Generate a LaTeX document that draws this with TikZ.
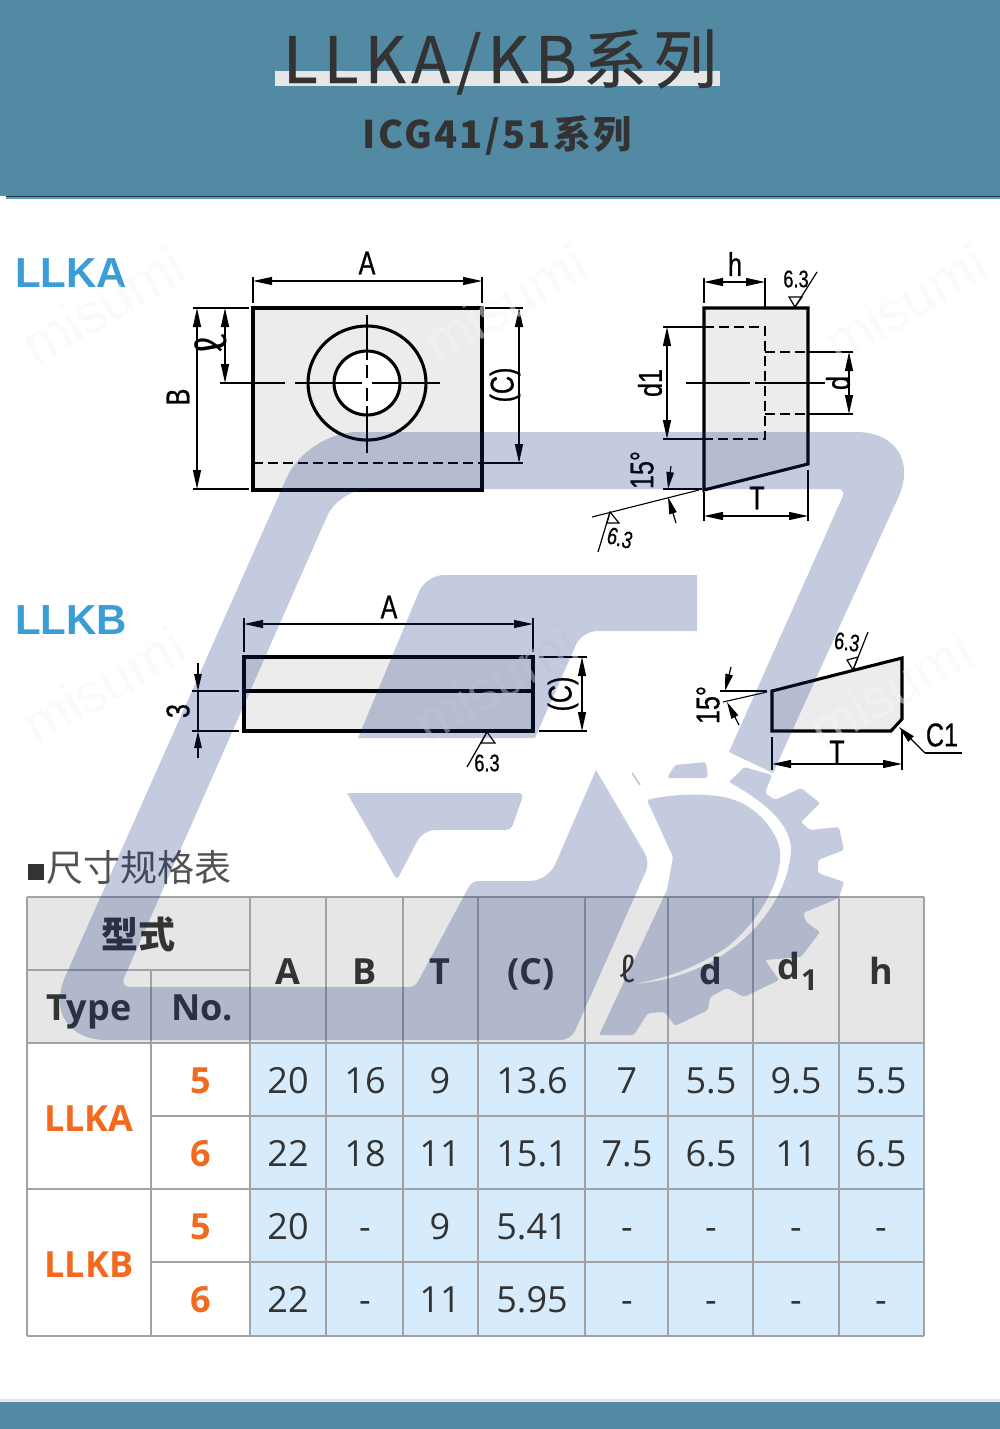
\documentclass[tikz,border=0pt]{standalone}
\usepackage{fontspec}
\usetikzlibrary{arrows.meta}
\setmainfont{Open Sans}
\newfontfamily\cjk{Noto Sans CJK SC}
\newfontfamily\titrefont[LetterSpace=9.5,FakeBold=.7]{Noto Sans CJK SC}
\newfontfamily\soustitrefont[LetterSpace=6]{Noto Sans CJK SC}
\newfontfamily\cotefont[FakeStretch=.76,FakeBold=.7]{Liberation Sans}
\newfontfamily\typefont{Liberation Sans}
\definecolor{bandeau}{RGB}{82,137,163}
\definecolor{encre}{RGB}{51,51,51}
\definecolor{grisfond}{RGB}{230,230,230}
\definecolor{bleufond}{RGB}{214,236,253}
\definecolor{grille}{RGB}{160,162,165}
\definecolor{orange}{RGB}{242,106,30}
\definecolor{bleutype}{RGB}{58,157,214}
\definecolor{logobleu}{RGB}{23,47,124}
\tikzset{
  piece/.style={draw=black,line width=3.1pt,fill=grisfond!75},
  axe/.style={line width=1.2pt},
  cache/.style={line width=1.8pt,dash pattern=on 10pt off 5pt},
  rappel/.style={line width=1.1pt},
  cote/.style={line width=1.2pt,{Triangle[length=19pt,width=8pt]}-{Triangle[length=19pt,width=8pt]}},
  fleche/.style={line width=1.2pt,-{Triangle[length=17pt,width=7.5pt]}},
  symbole/.style={line width=1.2pt},
  etiq/.style={font=\cotefont\fontsize{33}{35}\selectfont,inner sep=0pt},
  rugo/.style={font=\cotefont\fontsize{24}{26}\selectfont,inner sep=0pt},
  typenom/.style={font=\typefont\bfseries\fontsize{42}{45}\selectfont,text=bleutype,inner sep=0pt,anchor=base west},
  filigrane/.style={font=\typefont\fontsize{56}{58}\selectfont,text=black!4,text opacity=.5,inner sep=0pt},
  entete/.style={font=\bfseries\fontsize{36}{40}\selectfont,text=encre,inner sep=0pt,anchor=base},
  valeur/.style={font=\fontsize{36}{40}\selectfont,text=encre,inner sep=0pt,anchor=base},
  repere/.style={font=\bfseries\fontsize{36}{40}\selectfont,text=orange,inner sep=0pt,anchor=base},
  logo/.style={fill=logobleu,fill opacity=.25}
}
\begin{document}
\begin{tikzpicture}[x=1pt,y=-1pt]
  \useasboundingbox (0,0) rectangle (1000,1429);

  % bandeaux
  \fill[bandeau] (0,0) rectangle (1000,196);
  \fill[black!60!bandeau] (6,195.5) rectangle (1000,197);
  \fill[cyan!40!bandeau] (6,197) rectangle (1000,198.5);
  \fill[grisfond] (0,1399) rectangle (1000,1402);
  \fill[bandeau] (0,1402) rectangle (1000,1429);
  \fill[grisfond] (275,71) rectangle (720,86);
  \node[anchor=base,inner sep=0pt,text=encre,font=\titrefont\fontsize{64}{68}\selectfont] (titre) at (500,83) {LLKA/KB系列};
  \node[anchor=base,inner sep=0pt,text=encre,font=\soustitrefont\bfseries\fontsize{38}{40}\selectfont] (soustitre) at (497,148) {ICG41/51系列};

  % noms des types
  \node[typenom] (nomka) at (15,287) {LLKA};
  \node[typenom] (nomkb) at (15,634) {LLKB};

  % LLKA, vue de face
  \draw[piece] (253,308) rectangle (482,490);
  \draw[piece] (367,383) circle[x radius=59pt,y radius=57pt];
  \draw[piece,fill=white] (367,383) circle[x radius=33pt,y radius=32pt];
  \foreach \xa/\xb in {220/285,295/362,372/440}{
    \draw[axe] (\xa,383) -- (\xb,383);
  }
  \foreach \ya/\yb in {315/360,365/378,388/401,406/453}{
    \draw[axe] (367,\ya) -- (367,\yb);
  }
  \draw[cache] (253,463) -- (483,463);
  \draw[rappel] (483,463) -- (523,463);
  \draw[rappel] (253,277) -- (253,303);
  \draw[rappel] (482,277) -- (482,303);
  \draw[cote] (253,281) -- (482,281);
  \node[etiq] (cotea) at (367,263) {A};
  \draw[rappel] (193,308) -- (249,308);
  \draw[rappel] (193,489) -- (249,489);
  \draw[rappel] (220,383) -- (225,383);
  \draw[cote] (197,308) -- (197,489);
  \draw[cote] (225,308) -- (225,383);
  \node[etiq,rotate=90] (coteb) at (178,397) {B};
  \node[rotate=100,inner sep=0pt,font=\cjk\fontsize{40}{42}\selectfont] (cotel) at (211,345) {ℓ};
  \draw[rappel] (485,308) -- (523,308);
  \draw[cote] (519,308) -- (519,463);
  \node[etiq,rotate=90] (cotec) at (505,385) {(C)};

  % LLKA, vue de cote
  \draw[piece] (704,308) -- (808,308) -- (808,464) -- (704,490) -- cycle;
  \draw[rappel] (765,278) -- (765,308);
  \draw[rappel] (704,278) -- (704,303);
  \draw[cote] (704,282) -- (765,282);
  \node[etiq] (coteh) at (735,264) {h};
  \draw[symbole] (789,297) -- (802,297) -- (795,307) -- cycle;
  \draw[symbole] (795,307) -- (817,272);
  \node[rugo] (rugoa) at (796,279) {6.3};
  \draw[cache] (704,327) -- (765,327) -- (765,439) -- (704,439);
  \draw[rappel] (663,327) -- (704,327);
  \draw[rappel] (663,439) -- (704,439);
  \draw[cote] (667,327) -- (667,439);
  \node[etiq,rotate=90] (coted1) at (650,383) {d1};
  \draw[cache] (765,352) -- (808,352);
  \draw[cache] (765,414) -- (808,414);
  \draw[rappel] (808,352) -- (853,352);
  \draw[rappel] (808,414) -- (853,414);
  \draw[cote] (849,352) -- (849,414);
  \node[etiq,rotate=90] (coted) at (838,383) {d};
  \draw[axe] (686,383) -- (750,383);
  \draw[axe] (755,383) -- (825,383);
  \draw[rappel] (704,492) -- (704,521);
  \draw[rappel] (808,470) -- (808,521);
  \draw[cote] (704,516) -- (808,516);
  \node[etiq] (cotet) at (757,498) {T};
  \draw[rappel] (663,489) -- (702,489);
  \draw[rappel] (699,490) -- (592,517);
  \draw[fleche] (671,466) -- (668,489);
  \draw[fleche] (676,523) -- (668,497);
  \node[etiq,rotate=90] (angle) at (642,470) {15°};
  \draw[symbole] (607,523) -- (619,523) -- (610,512) -- cycle;
  \draw[symbole] (610,512) -- (598,552);
  \node[rugo,rotate=-15] (rugob) at (620,538) {6.3};

  % LLKB, vue de face
  \draw[piece] (244,657) rectangle (533,731);
  \draw[piece] (244,691) -- (533,691);
  \draw[rappel] (244,618) -- (244,652);
  \draw[rappel] (533,618) -- (533,652);
  \draw[cote] (244,624) -- (533,624);
  \node[etiq] (coteak) at (389,607) {A};
  \draw[rappel] (192,691) -- (239,691);
  \draw[rappel] (192,731) -- (239,731);
  \draw[fleche] (198,663) -- (198,691);
  \draw[fleche] (198,758) -- (198,731);
  \draw[rappel] (198,691) -- (198,731);
  \node[etiq,rotate=90] (cotetrois) at (178,711) {3};
  \draw[rappel] (539,657) -- (587,657);
  \draw[rappel] (539,731) -- (587,731);
  \draw[cote] (582,657) -- (582,731);
  \node[etiq,rotate=90] (cotecb) at (563,694) {(C)};
  \draw[symbole] (481,743) -- (495,743) -- (487,732) -- cycle;
  \draw[symbole] (487,732) -- (467,767);
  \node[rugo] (rugoc) at (487,763) {6.3};

  % LLKB, vue de cote
  \draw[piece] (772,691) -- (902,658) -- (902,719) -- (891,731) -- (772,731) -- cycle;
  \draw[rappel] (772,737) -- (772,770);
  \draw[rappel] (902,730) -- (902,770);
  \draw[cote] (772,764) -- (902,764);
  \node[etiq] (cotetk) at (837,752) {T};
  \draw[fleche] (925,753) -- (899,727);
  \draw[rappel] (925,753) -- (962,753);
  \node[etiq] (chanfrein) at (942,735) {C1};
  \draw[symbole] (847,660) -- (858,657) -- (853,670) -- cycle;
  \draw[symbole] (853,670) -- (868,632);
  \node[rugo,rotate=-8] (rugod) at (847,642) {6.3};
  \draw[rappel] (720,691) -- (767,691);
  \draw[rappel] (767,692) -- (723,702);
  \draw[fleche] (731,667) -- (725,691);
  \draw[fleche] (739,725) -- (727,702);
  \node[etiq,rotate=90] (anglek) at (708,705) {15°};

  % tableau
  \node[anchor=base west,inner sep=0pt,text=encre!85,font=\cjk\fontsize{37}{40}\selectfont] (legende) at (46,881) {尺寸规格表};
  \fill[encre] (28,864) rectangle (44,880);
  \fill[grisfond] (27,897) rectangle (924,1043);
  \fill[bleufond] (250,1043) rectangle (924,1336);
  \foreach \x in {250,326,403,478,585,668,753,839,924}{
    \draw[grille,line width=1.6pt] (\x,897) -- (\x,1336);
  }
  \foreach \y in {897,1043,1189,1336}{
    \draw[grille,line width=1.6pt] (27,\y) -- (924,\y);
  }
  \foreach \y in {1116,1262}{
    \draw[grille,line width=1.6pt] (151,\y) -- (924,\y);
  }
  \draw[grille,line width=1.6pt] (27,970) -- (250,970);
  \draw[grille,line width=1.6pt] (27,897) -- (27,1336);
  \draw[grille,line width=1.6pt] (151,970) -- (151,1336);
  \node[font=\cjk\bfseries\fontsize{37}{40}\selectfont,text=encre,inner sep=0pt] (modele) at (138,934) {型式};
  \node[entete] (type) at (89,1020) {Type};
  \node[entete] (numero) at (202,1020) {No.};
  \foreach \x/\t [count=\k] in {288/A,365/B,440/T,531/(C),711/d,881/h}{
    \node[entete] (tete\k) at (\x,984) {\t};
  }
  \node[entete,font=\cjk\fontsize{34}{36}\selectfont] (tetel) at (627,982) {ℓ};
  \node[entete,anchor=base east] (tetedun) at (800,979) {d};
  \node[entete,anchor=base west,font=\bfseries\fontsize{29}{30}\selectfont] (indice) at (801,990) {1};
  \node[repere] (ligneka) at (89,1131) {LLKA};
  \node[repere] (lignekb) at (89,1277) {LLKB};
  \foreach \y/\n [count=\k] in {1093/5,1166/6,1239/5,1312/6}{
    \node[repere] (num\k) at (201,\y) {\n};
  }
  \foreach \x/\va/\vb/\vc/\vd [count=\k] in {288/20/22/20/22,365/16/18/-/-,440/9/11/9/11,532/13.6/15.1/5.41/5.95,627/7/7.5/-/-,711/5.5/6.5/-/-,796/9.5/11/-/-,881/5.5/6.5/-/-}{
    \node[valeur] (va\k) at (\x,1093) {\va};
    \node[valeur] (vb\k) at (\x,1166) {\vb};
    \node[valeur] (vc\k) at (\x,1239) {\vc};
    \node[valeur] (vd\k) at (\x,1312) {\vd};
  }

  % filigranes
  \foreach \x/\y [count=\k] in {103/305,505/303,905/303,103/685,495/683,890/690}{
    \node[filigrane,rotate=30] (fil\k) at (\x,\y) {misumi};
  }

  % logo par-dessus
  \fill[logo] (596,770) [rounded corners=10pt] -- (650,862) -- (571,1040) [rounded corners=70pt] -- (37,1040)
    [rounded corners=50pt] -- (307,432) [rounded corners=72pt] -- (928,432) [sharp corners] -- (773,773) -- (729,752)
    [rounded corners=8pt] -- (846,489) [rounded corners=30pt] -- (339,489) [rounded corners=10pt] -- (120,987)
    [rounded corners=6pt] -- (415,987) -- (472,881) [rounded corners=18pt] -- (548,881) [sharp corners] -- cycle;
  \fill[logo] (358,738) [rounded corners=18pt] -- (426,575) [sharp corners] -- (697,575) -- (697,631)
    [rounded corners=15pt] -- (582,631) [sharp corners] -- (535,738) -- cycle;
  \fill[logo] (347,793) [rounded corners=5pt] -- (524,793) -- (511,830) [rounded corners=12pt] -- (423,830)
    [rounded corners=4pt] -- (397,880) [sharp corners] -- cycle;
  \fill[logo,rounded corners=2pt] (647,800) .. controls (675,793) and (715,793) .. (734,800)
    .. controls (755,807) and (775,828) .. (780,850) .. controls (782,880) and (760,920) .. (727,947)
    .. controls (700,965) and (665,980) .. (630,984) .. controls (670,982) and (705,968) .. (730,950)
    .. controls (765,925) and (790,885) .. (791,847) .. controls (788,825) and (770,805) .. (729,782)
    -- (744,767) -- (772,775) -- (765,793) -- (775,800) -- (801,788) -- (820,803) -- (801,822) -- (810,830)
    -- (839,827) -- (844,850) -- (818,860) -- (818,873) -- (844,882) -- (839,898) -- (803,913) -- (806,922)
    -- (820,932) -- (801,957) -- (765,960) -- (779,980) -- (744,997) -- (727,988) -- (710,997) -- (708,1010)
    -- (675,1026) -- (665,1012) -- (648,1013) -- (634,1035) -- (599,1035) -- (667,890) -- (673,857) -- cycle;
  \fill[logo,rounded corners=3pt] (667,778) -- (675,765) -- (706,762) -- (708,778) -- cycle;
  \draw[logobleu,opacity=.3,line width=1.5pt] (632,773) -- (640,785);
\end{tikzpicture}
\end{document}
